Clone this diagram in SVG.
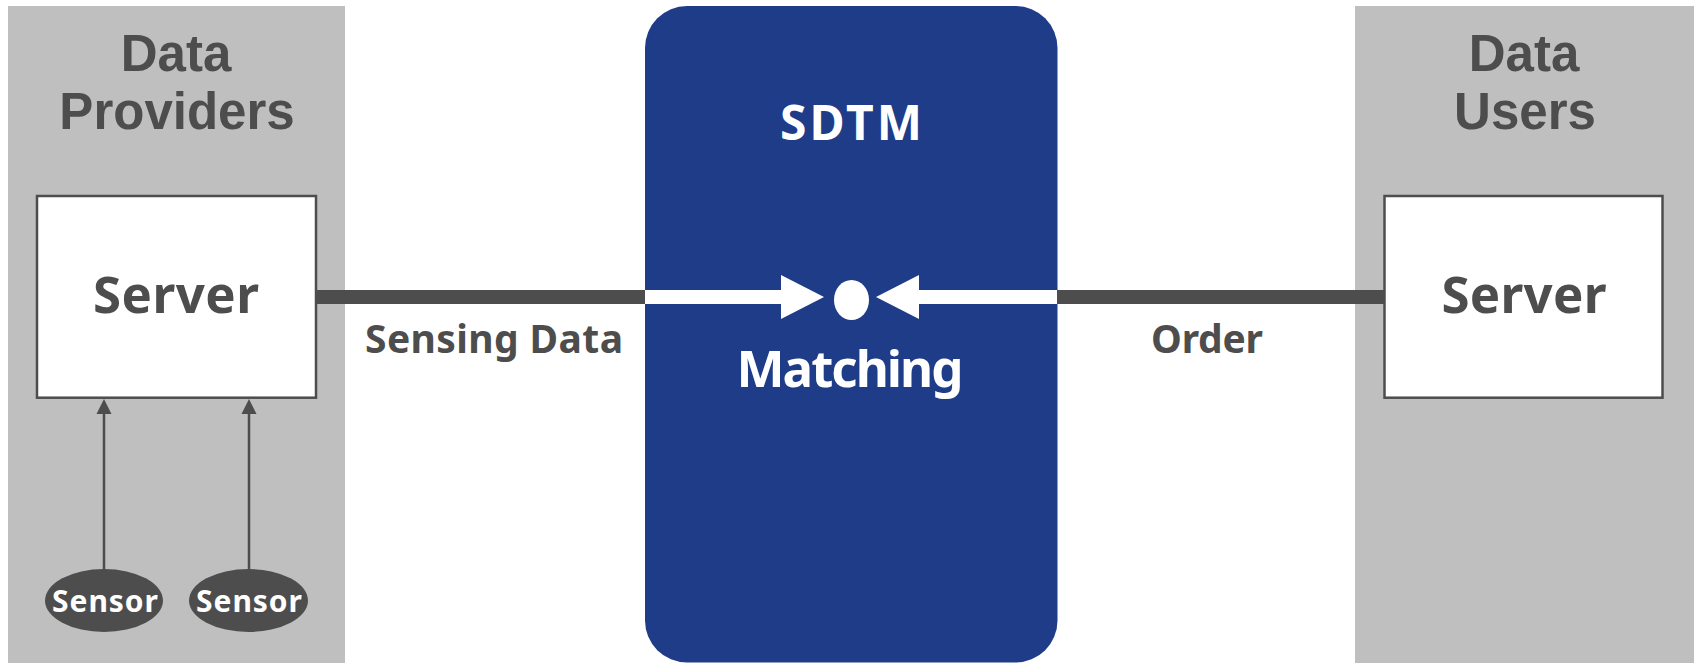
<svg xmlns="http://www.w3.org/2000/svg" width="1694" height="663" viewBox="0 0 1694 663">
  <style>
    .panel { fill: #bfbfbf; }
    .box { fill: #ffffff; stroke: #4d4d4d; stroke-width: 2.5; }
    .t { font-family: "Noto Sans", "Open Sans", "DejaVu Sans", sans-serif; font-weight: bold; text-anchor: middle; }
    .h { font-family: "Liberation Sans", Arial, sans-serif; font-weight: bold; text-anchor: middle; font-size: 51px; fill: #4d4d4d; }
    .dark { fill: #4d4d4d; }
    .white { fill: #ffffff; }
    .bar { stroke: #4d4d4d; stroke-width: 14; fill: none; }
    .wbar { stroke: #ffffff; stroke-width: 14; fill: none; }
    .thin { stroke: #4d4d4d; stroke-width: 2.5; fill: none; }
  </style>
  <rect width="1694" height="663" fill="#ffffff"/>

  <g id="providers">
    <rect class="panel" x="8" y="6" width="337" height="657"/>
    <text class="h" x="176" y="70.5">Data</text>
    <text class="h" x="177" y="128.5">Providers</text>
  </g>

  <g id="users">
    <rect class="panel" x="1355" y="6" width="339" height="657"/>
    <text class="h" x="1524" y="70.5">Data</text>
    <text class="h" x="1525" y="128.5">Users</text>
  </g>

  <g id="sdtm">
    <rect x="645" y="6" width="412.5" height="656.5" rx="42" ry="42" fill="#1e3c87"/>
    <text class="t white" x="851" y="140" font-size="48" textLength="142">SDTM</text>
    <text class="t white" x="850" y="386.7" font-size="51" textLength="227">Matching</text>
  </g>

  <g id="server-left">
    <rect class="box" x="37" y="196" width="279" height="201.7"/>
    <text class="t dark" x="176" y="313.3" font-size="51" textLength="166">Server</text>
  </g>

  <g id="server-right">
    <rect class="box" x="1384.5" y="196" width="278" height="201.7"/>
    <text class="t dark" x="1524" y="313.3" font-size="51" textLength="165">Server</text>
  </g>

  <g id="sensor-1">
    <ellipse cx="104" cy="600.5" rx="59" ry="31.5" fill="#4d4d4d"/>
    <text class="t white" x="105" y="612" font-size="30" textLength="106">Sensor</text>
  </g>

  <g id="sensor-2">
    <ellipse cx="248.5" cy="600.5" rx="59.5" ry="31.5" fill="#4d4d4d"/>
    <text class="t white" x="249" y="612" font-size="30" textLength="106">Sensor</text>
  </g>

  <g id="match-point">
    <ellipse cx="851.5" cy="300" rx="17.5" ry="20" fill="#ffffff"/>
  </g>

  <g id="connectors">
    <line class="bar" x1="316" y1="297" x2="645" y2="297"/>
    <line class="wbar" x1="645" y1="297" x2="782" y2="297"/>
    <polygon class="white" points="781,275 824,297 781,319"/>
    <line class="bar" x1="1057" y1="297" x2="1385" y2="297"/>
    <line class="wbar" x1="918" y1="297" x2="1057" y2="297"/>
    <polygon class="white" points="919,275 876,297 919,319"/>
    <text class="t dark" x="494" y="353" font-size="39" textLength="258">Sensing Data</text>
    <text class="t dark" x="1207" y="353" font-size="39" textLength="112">Order</text>
    <line class="thin" x1="104" y1="569" x2="104" y2="412"/>
    <polygon class="dark" points="104,399 96.5,414 111.5,414"/>
    <line class="thin" x1="249" y1="569" x2="249" y2="412"/>
    <polygon class="dark" points="249,399 241.5,414 256.5,414"/>
  </g>
</svg>
